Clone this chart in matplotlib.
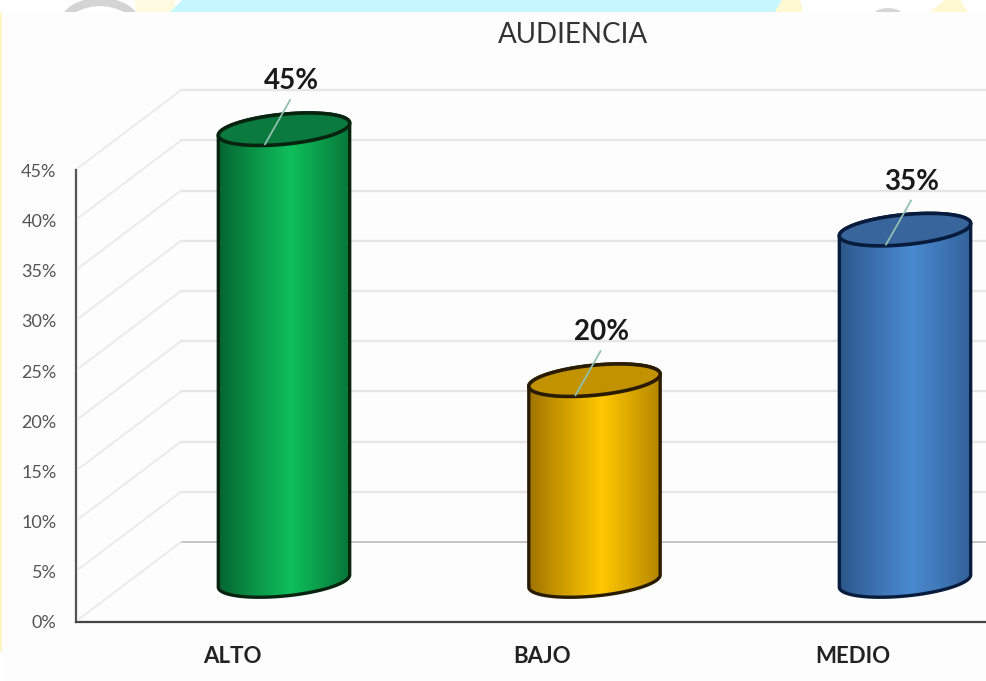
import matplotlib
matplotlib.use('Agg')
import matplotlib.pyplot as plt
import numpy as np
from matplotlib.patches import Polygon, Rectangle, Ellipse

plt.rcParams['font.family'] = ['Lato', 'DejaVu Sans']

# chart values
categories = ['ALTO', 'BAJO', 'MEDIO']
values = [45, 20, 35]
y_ticks = [0, 5, 10, 15, 20, 25, 30, 35, 40, 45]
y_labels = ['0%', '5%', '10%', '15%', '20%', '25%', '30%', '35%', '40%', '45%']
bar_dark = ['#04602f', '#9c7000', '#2b5488']
bar_light = ['#0fbf5b', '#ffc800', '#4a8ad0']
bar_top = ['#0a7a3e', '#c29200', '#37659c']
bar_edge = ['#06240f', '#2a1c00', '#071c3c']

W, H = 986, 681
PX_X = 310.5   # pixels per category
PX_Y = 10.04   # pixels per percent


def px(dx, dy):
    # pixel offsets -> data offsets
    return dx / PX_X, dy / PX_Y


def ellipse_pts(cx, cy, t, a=66, b=15, tilt=5.6):
    th = np.radians(tilt)
    ex = a * np.cos(t) * np.cos(th) - b * np.sin(t) * np.sin(th)
    ey = a * np.cos(t) * np.sin(th) + b * np.sin(t) * np.cos(th)
    ox, oy = px(ex, ey)
    return cx + ox, cy + oy


fig = plt.figure(figsize=(W / 100, H / 100), dpi=100, facecolor='white')

# scraps of the page behind the chart
bg = fig.add_axes([0, 0, 1, 1])
bg.set_xlim(0, W)
bg.set_ylim(H, 0)
bg.axis('off')
bg.add_patch(Rectangle((135, 0), 40, 12, color='#fffbe0', lw=0))
bg.add_patch(Polygon([(170, 12), (182, 0), (782, 0), (775, 12)], color='#c8f6ff', lw=0))
bg.add_patch(Polygon([(775, 12), (782, 0), (800, 0), (803, 12)], color='#fff8d0', lw=0))
bg.add_patch(Polygon([(930, 12), (945, 0), (960, 0), (968, 12)], color='#fff8d0', lw=0))
bg.add_patch(Rectangle((0, 12), 2, 640, color='#fff6c8', lw=0))
bg.add_patch(Ellipse((100, 24), 72, 44, fill=False, ec='#d4d4d4', lw=6))
bg.add_patch(Ellipse((888, 16), 30, 16, color='#d5d5d5', lw=0))
bg.add_patch(Rectangle((2, 12), W, H, color='#fdfdfd', lw=0))

ax = fig.add_axes([76 / W, (H - 622) / H, (W - 76) / W, (622 - 12) / H])
ax.patch.set_alpha(0)
ax.set_xlim(-156 / PX_X, 754 / PX_X)
ax.set_ylim(0, 610 / PX_Y)

# back wall and side wall lines
depth_x, depth_y = px(105, 80)
x0 = ax.get_xlim()[0]
x1 = ax.get_xlim()[1]
for v in y_ticks:
    col = '#b5b5b5' if v == 0 else '#e6e6e6'
    lw = 1.1 if v == 0 else 1.7
    ax.plot([x0 + depth_x, x1], [v + depth_y, v + depth_y], color=col, lw=lw, zorder=1)
    ax.plot([x0 + 0.01, x0 + depth_x], [v + 0.3, v + depth_y], color='#ebebeb', lw=1.4, zorder=1)

# cylinders
base_off = px(52, 41)
t_all = np.linspace(0, 2 * np.pi, 120)
t_low = np.linspace(np.pi, 2 * np.pi, 60)
t_up = np.linspace(0, np.pi, 60)
for i, val in enumerate(values):
    cx = i + base_off[0]
    by = base_off[1]
    ty = by + val
    bx_pts, by_pts = ellipse_pts(cx, by, t_low)
    tx_pts, ty_pts = ellipse_pts(cx, ty, t_up)
    body = np.column_stack([np.r_[bx_pts, tx_pts], np.r_[by_pts, ty_pts]])

    # horizontal shading across the body
    n = 256
    u = np.linspace(0, 1, n)
    k = np.clip(1 - np.abs(u - 0.55) / 0.55, 0, 1) ** 0.9
    c0 = np.array(matplotlib.colors.to_rgb(bar_dark[i]))
    c1 = np.array(matplotlib.colors.to_rgb(bar_light[i]))
    grad = (c0[None, :] * (1 - k[:, None]) + c1[None, :] * k[:, None])[None, :, :]
    half = 67 / PX_X
    im = ax.imshow(grad, extent=[cx - half, cx + half, by - 3, ty + 3],
                   aspect='auto', zorder=3, interpolation='bilinear')
    poly = Polygon(body, closed=True, fc='none', ec=bar_edge[i], lw=2.4, zorder=4)
    ax.add_patch(poly)
    im.set_clip_path(poly)

    ex, ey = ellipse_pts(cx, ty, t_all)
    ax.add_patch(Polygon(np.column_stack([ex, ey]), closed=True, fc=bar_top[i],
                         ec=bar_edge[i], lw=2.6, zorder=5))

    # leader line and data label
    lx0, ly0 = px(-19, -15)
    lx1, ly1 = px(6, 29)
    ax.plot([cx + lx0, cx + lx1], [ty + ly0, ty + ly1], color='#8fc0b0', lw=1.3, zorder=6)
    tx, tyy = px(7, 48)
    ax.text(cx + tx, ty + tyy, f'{val}%', ha='center', va='center', fontsize=20,
            fontweight='bold', color='#1a1a1a', zorder=7)

ax.set_xticks(range(len(categories)))
ax.set_xticklabels(categories, fontsize=16, fontweight='bold', color='#222222')
ax.set_yticks(y_ticks)
ax.set_yticklabels(y_labels, fontsize=13, color='#555555')
ax.tick_params(axis='x', length=0, pad=17)
ax.tick_params(axis='y', length=0, pad=14)
ax.spines['top'].set_visible(False)
ax.spines['right'].set_visible(False)
ax.spines['left'].set_bounds(0, 45)
ax.spines['left'].set_color('#555555')
ax.spines['left'].set_linewidth(1.6)
ax.spines['bottom'].set_color('#444444')
ax.spines['bottom'].set_linewidth(1.6)
ax.set_xlim(-156 / PX_X, 754 / PX_X)
ax.set_ylim(0, 610 / PX_Y)

fig.text(573 / W, 1 - 35 / H, 'AUDIENCIA', ha='center', va='center', fontsize=20, color='#333333')

fig.savefig('out.png', dpi=100)
